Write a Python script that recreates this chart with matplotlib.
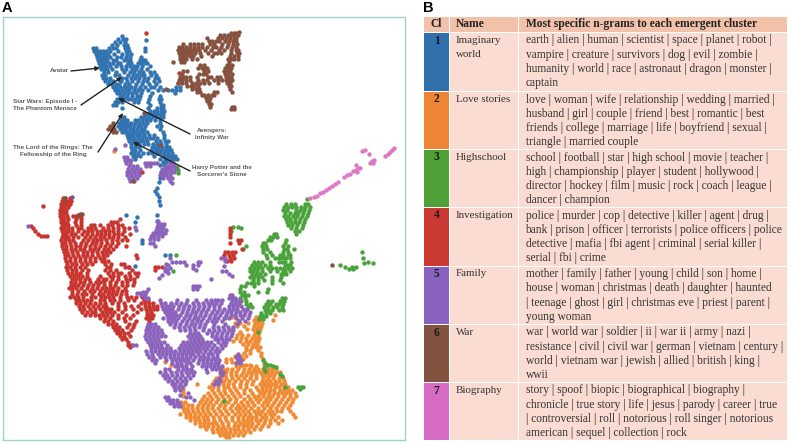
import matplotlib
matplotlib.use("Agg")
import matplotlib.pyplot as plt
from matplotlib.patches import Rectangle

# cluster points, as (y, [x, x, ...]) scan rows
blue_rows = [
    (36,[122]),(39,[118,123,126]),(40,[146]),(42,[115,120,125]),(45,[112,117,124,127]),(48,[93,96,109,113,116,125,128,145]),
    (51,[94,97,100,103,106,110,118,126,129,145]),(54,[96,99,102,105,108,114,122,127,131]),
    (57,[97,100,103,106,110,117,121,126,130,141]),(60,[98,101,104,107,113,116,124,127,130,140,143,145]),
    (63,[99,102,105,109,113,118,120,128,131,138,141,144,147]),(66,[100,103,106,110,116,121,126,130,134,137,142,150]),
    (69,[101,104,107,112,122,126,132,136,141,147]),(72,[104,108,116,124,130,134,139,143,150,154]),
    (75,[102,105,115,119,128,133,137,141,144,151,156]),(78,[103,106,110,122,126,131,135,139,144,148,155,158]),
    (81,[105,109,113,121,127,132,138,143,147,154,159]),(84,[108,112,116,119,125,129,136,142,149,156]),
    (87,[113,116,120,124,127,131,135,140,145,151,154,160,176,180]),(90,[115,118,122,126,129,134,138,142,148,158,163,168,172,176,180]),
    (93,[117,120,124,128,132,136,141,152,175]),(96,[120,123,127,132,137,140,150,160]),
    (99,[117,121,124,128,131,135,139,149,159,161]),(102,[115,118,122,134,138,148,160]),(105,[113,116,150,161,163]),
    (108,[122,148,157,161,163]),(111,[150,154,157,161,164]),(114,[145,148,151,154,157,160,163]),
    (117,[124,141,144,148,152,156,160,163]),(120,[121,124,127,135,138,142,146,150,155,160]),
    (123,[119,122,125,128,131,135,139,143,147,160]),(126,[118,121,124,127,130,134,138,141,145,157,161]),
    (129,[120,123,126,130,133,137,141,144,160]),(132,[122,125,128,132,135,139,143,147,163]),
    (135,[127,130,133,137,140,144,149,154,164]),(138,[128,131,134,138,142,146,150,153,157,164]),
    (141,[129,133,136,140,143,147,156,160,165,168]),(144,[131,135,139,144,148,153,157,161,166]),
    (147,[131,135,139,152,155,158,162,166,169]),(150,[132,135,140,151,155,158,161,165,168,171]),
    (153,[131,134,138,143,148,152,157,160,164,168,172]),(156,[133,136,140,154,163,166,169,172,175]),
    (159,[135,160,165,168,171,174,177]),(162,[163,166,170]),(165,[160,164]),(172,[161]),(178,[160]),(182,[159]),
    (188,[157]),(191,[155]),(194,[157]),(197,[159,72]),(201,[159]),(205,[160]),(215,[157,126]),(217,[137]),(221,[157]),
    (222,[135]),(240,[142]),(243,[142]),(255,[165,170]),(266,[135]),(267,[128]),
]
orange_rows = [
    (151,[114]),(317,[232,256,259]),(320,[238,254,257,260,273]),(323,[235,240,248,255,258,262]),(326,[237,244,254,258,261]),
    (315,[275]),(329,[232,247,253,257,260]),(332,[240,255,259]),(335,[237,242,248,254,258]),(338,[236,241,246,252,256,259]),
    (341,[233,240,246,250,255,258]),(344,[243,248,253,257]),(347,[246,252,256,260]),(350,[246,250,258]),(353,[244,250,261]),
    (356,[235,241,246,261]),(359,[226,231,237,243,263]),(362,[165,226,232,238,264]),(365,[171,243,246,250,264,267]),
    (366,[236,240,251,256]),(369,[223,227,232,238,244,249,254,258,263,268,272,276]),
    (372,[193,222,226,231,236,243,248,252,256,260,264,268,272,276,280]),(375,[220,225,231,236,241,246,251,256,262,266,270,274,280]),
    (378,[216,221,226,232,238,244,250,256,263,268,273,279,283]),(381,[214,219,224,229,235,241,247,253,262,266,270,275,279,284]),
    (384,[173,197,212,218,223,228,233,240,246,252,260,264,268,272,276,281,285]),
    (387,[183,209,213,218,224,228,234,240,246,256,262,266,270,275,279,284,288]),
    (390,[183,212,218,224,230,236,244,250,258,262,266,270,274,280,284,288,292]),
    (393,[183,208,214,220,225,232,238,244,252,260,264,269,274,278,282,286,290,295]),
    (396,[183,204,210,216,222,228,234,240,248,254,258,263,268,272,278,284,290,296]),
    (399,[202,207,212,218,224,230,236,244,250,256,260,266,270,276,282,288,293]),
    (402,[181,185,200,205,210,216,222,228,235,241,247,252,258,264,268,274,280,286,292]),
    (405,[183,188,192,198,203,208,213,220,225,232,238,243,248,254,262,267,272,278,284,290]),
    (408,[183,187,192,197,202,207,212,218,224,230,236,240,245,251,258,264,270,276,282,288]),
    (411,[184,188,193,198,203,208,214,220,226,232,238,243,248,254,258,262,268,272,277,281,290]),
    (414,[180,186,190,195,200,205,210,216,222,228,235,240,245,250,256,260,265,270,274,293]),
    (417,[186,190,194,198,203,207,213,219,225,232,238,243,248,252,256,262,266,272,278,295]),
    (420,[190,195,199,204,208,214,220,226,232,238,243,247,251,256,260,265,270,275,282]),
    (423,[195,200,204,208,212,216,222,228,235,240,244,248,252,258,264,270,278]),
    (426,[200,204,208,213,218,223,228,234,238,243,247,251,256,262,268]),
    (429,[206,212,217,221,225,230,234,238,243,248,254,260]),(432,[213,218,222,226,230,235,240,245,250]),
    (435,[220,224,228,233,238,243]),(437,[226,229]),
]
green_rows = [
    (167,[177]),(170,[178]),(173,[178]),(199,[307]),(204,[286,291,295,305,308]),(207,[284,288,292,296,301,305,310]),
    (210,[283,287,296,300,304,309]),(213,[285,290,295,298,303,308]),(216,[284,288,293,297,302,307]),
    (219,[286,290,295,300,305]),(222,[287,291,295,299,304]),(225,[288,292,297,303]),(227,[233,238]),(228,[291,296,302,241]),
    (231,[295,299,231]),(234,[276,274,296]),(237,[270,273,277]),(240,[268,271,286]),(243,[265,263,285]),
    (246,[246,262,266,283,288]),(249,[243,263,267,284,287,294]),(252,[263,270,283,288]),(255,[176,266,272,280,283,288,290]),
    (258,[267,275,278,281,284,286,290,363]),(252,[362]),(262,[254,258,262,270,279,282,285,291,368]),
    (263,[364,373]),(265,[252,256,260,265,270,285,288,290,340]),(267,[345,352,356]),(269,[353,349]),
    (268,[250,254,258,262,268,272,276,280,284,288,292]),(271,[173,250,253,257,262,270,277,283,285,290]),
    (274,[252,256,260,265,281,283,286]),(277,[250,254,258,262,272,281]),(280,[253,258,264,272,280]),
    (283,[247,251,254,258,272,283]),(286,[241,245,254]),(289,[240,268]),(292,[240,244,258,267]),(295,[242,245,248]),
    (298,[240,245,282,285]),(301,[241,246,268,272,280,284]),(304,[246,250,266,270,276,279,283]),
    (307,[248,252,264,268,273,277,282]),(310,[265,268,272,279,283]),(313,[261,266,270]),(316,[260,263,266]),
    (318,[225]),(319,[259,263]),(332,[258]),(360,[263]),(363,[265]),(365,[267,270]),(366,[273]),(367,[276]),(368,[264]),
    (371,[265]),(374,[280]),(376,[282]),(387,[285,298,301,303]),(389,[300]),(401,[224]),
]
red_rows = [
    (33,[146]),(73,[179]),(83,[178]),(172,[140,142]),(198,[63,65,70]),(201,[62,65,68,71]),(204,[61,64,67,70]),(206,[43]),
    (207,[61,64,68]),(210,[60,63,66]),(213,[60,63,66]),(216,[60,63,67,73,76,79,81]),(219,[61,64,68,76,81,120]),
    (222,[61,64,67,75,81,111,114,117]),(225,[62,65,68,76,81,91,94,100,108,112,118,122]),
    (226,[31]),(228,[33,61,64,68,72,78,81,88,91,95,103,108,113,118,124,129,230]),(231,[35,62,65,68,72,78,84,88,92,97,101,105,109,113,118,124,230]),
    (234,[38,63,66,71,75,82,87,92,97,101,105,109,114,118,122,130,230]),(236,[41,44,47]),
    (237,[62,65,68,73,78,85,90,95,100,104,109,113,118,125,230]),(240,[61,65,69,73,83,88,93,97,101,106,112,117,122,127,238,241]),
    (243,[62,65,70,75,81,86,92,96,101,107,112,118,230,239]),(246,[62,66,71,76,80,85,90,95,100,105,110,116,126]),
    (249,[63,66,71,75,80,84,90,94,98,104,108,113,242]),(252,[64,67,72,77,83,87,92,97,102,106,110,225,228,232,235]),
    (255,[65,68,73,78,83,87,92,98,103,107,136,224,229,233]),(258,[65,70,75,80,85,90,95,100,104,137,224,230,234]),
    (261,[66,70,75,80,85,90,95,102,104,108,227,231]),(264,[67,72,76,82,87,92,105,111,121,124]),
    (267,[66,70,75,80,85,107,110,125,129,155,158,162]),(270,[67,72,76,82,88,105,110,116,132,155]),
    (273,[68,72,76,80,87,108,113,118,121,129,135,138]),(276,[70,74,78,82,87,100,110,113,118,125,130,137]),
    (279,[72,76,80,85,89,98,103,106,112,118,126,130,134]),(282,[71,75,80,84,90,96,100,104,110,116,122,127,134]),
    (285,[71,74,78,83,88,93,98,104,110,115,122,127,133]),(288,[69,72,76,81,87,92,97,102,106,110,113,118,125]),
    (291,[72,78,84,90,94,100,105,109,113,117,122,126]),(294,[72,77,82,86,92,99,103,108,112,116,121,126]),
    (297,[70,74,78,83,91,95,101,105,109,113,120,127,131,136,142]),(300,[76,79,83,87,91,100,104,110,114,120,128,134,144,148]),
    (303,[76,80,85,90,95,100,105,112,118,124,141,145,149,153]),(306,[79,83,88,93,98,103,106,118,125,131,138,145,149,153,157]),
    (309,[80,84,90,95,100,105,108,111,118,125,133,141,146,150,154,157]),(312,[82,87,92,95,102,106,110,114,122,137,147,151]),
    (315,[85,90,95,99,103,107,112,118,126,133,147,150,153]),(318,[100,105,110,118,124,130,146,149,152]),
    (321,[104,108,113,125,136,149]),(324,[108,112,116,129,134]),(327,[113,116,119,127,133]),(330,[115,118,122,131]),
    (333,[117,120,124,128]),(336,[120,124,130]),(339,[122,126]),(342,[128]),(345,[128,131]),(347,[130]),
]
purple_rows = [
    (145,[125]),(149,[115]),(157,[124,127]),(160,[125,128,131]),(163,[126,130,145,148,151,154,157,170,173]),
    (166,[129,133,137,146,150,165,168,171,174]),(169,[128,132,136,140,162,165,168,171,175]),
    (172,[127,130,134,138,161,164,167,171,174]),(175,[127,131,135,139,160,163,166,170]),(178,[129,133,137,163,168,172]),
    (181,[130,134,170]),(183,[172]),(221,[158]),(224,[158,161,164]),(226,[28]),(227,[157,160,163,135]),
    (230,[156,159,162,166,136]),(233,[153,156,159,162,165]),(236,[151,154,158,162]),(239,[150,154,158]),(243,[150,153]),
    (246,[155]),(258,[170,221,225]),(261,[225]),(262,[172,176,180,184,198,200]),(264,[166]),(265,[168,186,193,198]),
    (266,[224]),(268,[165,170,193]),(270,[167,196]),(271,[165,222,226]),(273,[168]),(274,[229]),(275,[162]),(276,[232]),
    (278,[159]),(279,[211]),(286,[193,196,199]),(289,[148,193,197]),(292,[143,146]),(293,[137,140]),(295,[141,145,230,232]),
    (298,[145,148,229,232,235]),(300,[160,177,187,196,206,211,215,218,222,232,236,240]),
    (303,[161,165,171,176,181,186,193,198,203,208,212,216,221,231,235,239]),
    (306,[162,166,169,173,179,184,189,194,199,204,209,214,219,229,233,237,241]),
    (309,[163,166,169,172,178,183,188,193,198,203,208,214,219,224,229,233,237,243,247]),
    (312,[165,168,171,175,182,187,192,196,201,206,212,217,222,227,231,236,240,245,250]),
    (315,[167,170,173,176,180,186,190,195,200,205,210,215,220,226,231,235,240,244,249]),
    (318,[163,168,171,174,178,184,189,194,198,203,209,214,218,224,229,236,242,248]),
    (321,[168,172,176,182,187,192,197,201,207,212,216,222,239,245]),
    (324,[148,151,155,170,175,180,186,191,195,200,205,214,225,237]),
    (327,[147,150,154,158,174,179,184,189,194,199,204,213,218,223,228,233]),
    (330,[146,149,153,157,161,180,185,190,195,203,209,214,219,224,229,233]),
    (333,[146,150,154,158,162,190,194,198,207,212,217,222,227,232]),
    (336,[145,149,153,157,161,165,188,192,196,200,212,216,221,226,231]),
    (339,[146,150,154,158,190,194,198,202,215,218,222,226,229]),
    (342,[148,152,156,160,164,183,187,191,195,199,203,207,211,218,223,226]),
    (345,[133,136,150,153,157,161,167,181,185,189,193,197,201,205,209,214,221,225]),
    (348,[151,155,159,162,166,170,179,183,187,191,195,199,203,207,212,217,222]),
    (351,[146,151,155,159,163,167,171,175,180,184,188,192,196,200,205,210,215,219]),
    (354,[147,152,158,162,166,170,174,178,182,186,190,193,198,203,208,212,217,238]),
    (357,[149,153,160,165,170,174,178,182,186,190,195,200,204,208,213,217,236,239]),
    (360,[152,156,166,172,176,180,184,188,193,199,203,207,211,215,219,238,241]),
    (363,[155,172,177,181,186,190,198,203,207,211,215,218,236,240]),(366,[175,178,182,186,192,202,206,210,214,218,222]),
    (369,[165,169,178,183,187,191,206,212,216,220]),(372,[160,165,171,176,181,186,190,194,207,220,223]),
    (375,[163,167,172,177,182,188,193,222]),(378,[165,169,175,180,185,190,219]),(381,[168,172,177,182,186,216,220]),
    (384,[172,175,180,185,214,218]),(387,[174,178,182]),(390,[175,180]),(393,[188]),(395,[180]),(397,[165,168,186,190]),
    (400,[167,170,173,177,194]),(403,[170,173,177,179]),(406,[174,178,180]),
]
brown_rows = [
    (32,[239]),(33,[231,234,236]),(35,[220,224,228,231,234,238]),(38,[207,218,222,226,230,234,236]),
    (41,[209,212,216,219,225,229,233,236]),(44,[183,190,194,198,202,210,214,222,228,233,237]),
    (47,[179,182,186,190,194,198,202,207,213,216,221,227,232,236]),(50,[178,181,184,187,190,193,196,199,205,211,219,224,231,236,238]),
    (53,[179,182,185,188,191,195,200,208,214,217,221,231,237,239]),(56,[180,183,186,190,193,201,212,230,234,238]),
    (59,[180,183,186,192,197,228,231,234,238]),(62,[173,181,184,229]),(65,[200,204,227,229,232]),
    (68,[198,202,205,207,225,228,231]),(71,[183,187,204,208,224,227,230]),(74,[182,199,203,206,225,228,232]),
    (77,[180,183,186,190,197,208,211,217,220,226,229,231]),(80,[179,182,186,190,198,203,207,214,218,222,226,229,232]),
    (83,[178,182,186,192,196,200,204,209,218,227,230]),(86,[187,191,194,198,229,231]),(89,[192,196,199,166,230]),
    (92,[197,200,214,217,232]),(95,[202,204,208,212,214]),(98,[206,210]),(101,[207,209]),(104,[209,211]),(107,[210,232,234]),
    (109,[231,234]),(113,[144]),(123,[113]),(126,[110,113]),(129,[108,111,114]),(132,[113,116]),(145,[160]),(181,[133]),
    (198,[65]),(200,[64]),(214,[80,82]),(215,[78]),(265,[332]),
]
pink_rows = [
    (148,[394]),(150,[365,392]),(151,[362]),(152,[390]),(154,[369,388]),(156,[385]),(160,[374]),(161,[372]),(163,[370,373]),
    (165,[356]),(168,[358,360]),(170,[356]),(171,[353]),(172,[357]),(174,[350]),(175,[347]),(177,[344]),(182,[338]),
    (184,[335]),(186,[332]),(188,[329]),(190,[326]),(192,[323]),(193,[320]),(196,[317]),(197,[314]),(198,[310]),
]

cluster_ids = ["1", "2", "3", "4", "5", "6", "7"]
cluster_names = [["Imaginary", "world"], ["Love stories"], ["Highschool"], ["Investigation"], ["Family"], ["War"], ["Biography"]]
cluster_ngrams = [
    ["earth | alien | human | scientist | space | planet | robot |", "vampire | creature | survivors | dog | evil | zombie |",
     "humanity | world | race | astronaut | dragon | monster |", "captain"],
    ["love | woman | wife | relationship | wedding | married |", "husband | girl | couple | friend | best | romantic | best",
     "friends | college | marriage | life | boyfriend | sexual |", "triangle | married couple"],
    ["school | football | star | high school | movie | teacher |", "high | championship | player | student | hollywood |",
     "director | hockey | film | music | rock | coach | league |", "dancer | champion"],
    ["police | murder | cop | detective | killer | agent | drug |", "bank | prison | officer | terrorists | police officers | police",
     "detective | mafia | fbi agent | criminal | serial killer |", "serial | fbi | crime"],
    ["mother | family | father | young | child | son | home |", "house | woman | christmas | death | daughter | haunted",
     "| teenage | ghost | girl | christmas eve | priest | parent |", "young woman"],
    ["war | world war | soldier | ii | war ii | army | nazi |", "resistance | civil | civil war | german | vietnam | century |",
     "world | vietnam war | jewish | allied | british | king |", "wwii"],
    ["story | spoof | biopic | biographical | biography |", "chronicle | true story | life | jesus | parody | career | true",
     "| controversial | roll | notorious | roll singer | notorious", "american | sequel | collection | rock"],
]
cluster_colors = ["#2f70ad", "#ee8535", "#4fa036", "#cb3a32", "#8a63c0", "#84533f", "#d86cc2"]

W, H = 792, 445


def expand(rows):
    xs = []
    ys = []
    for y, row in rows:
        for x in row:
            xs.append(x)
            ys.append(y)
    return xs, ys


fig = plt.figure(figsize=(W / 100, H / 100), dpi=100)
bg = fig.add_axes([0, 0, 1, 1])
bg.set_xlim(0, W)
bg.set_ylim(H, 0)
bg.axis("off")

# panel A
ax = fig.add_axes([3 / W, 1 - 440 / H, 402 / W, 423 / H])
ax.set_xlim(3, 405)
ax.set_ylim(440, 17)
ax.set_xticks([])
ax.set_yticks([])
for s in ax.spines.values():
    s.set_color("#9bd3cd")
    s.set_linewidth(1.0)

all_rows = [blue_rows, orange_rows, green_rows, red_rows, purple_rows, brown_rows, pink_rows]
for rows, c in zip(all_rows, ["#3274b2", "#f08a33", "#4aa23a", "#c8352f", "#8b63bd", "#86523f", "#dd78c6"]):
    xs, ys = expand(rows)
    ax.scatter(xs, ys, s=10, color=c, linewidths=0, zorder=2)

labels = [
    ("Avatar", 59, 70, 71, 71, 100, 68),
    ("Star Wars: Episode I -\nThe Phantom Menace", 45, 105, 81, 105, 122, 77),
    ("Avengers:\nInfinity War", 212, 134, 190, 134, 118, 98),
    ("The Lord of the Rings: The\nFellowship of the Ring", 53, 151, 98, 152, 123, 113),
    ("Harry Potter and the\nSorcerer's Stone", 222, 171, 190, 171, 133, 142),
]
for txt, tx, ty, x0, y0, x1, y1 in labels:
    ax.text(tx, ty, txt, ha="center", va="center", fontsize=4.5, fontweight="bold", color="#5c5c5c",
            family="Liberation Sans", linespacing=1.45, zorder=4)
    ax.annotate("", xy=(x1, y1), xytext=(x0, y0), zorder=4,
                arrowprops=dict(arrowstyle="-|>,head_length=0.25,head_width=0.12", color="#222222", lw=1.0,
                                shrinkA=0, shrinkB=0))

bg.text(2, 8.5, "A", fontsize=10.5, fontweight="bold", family="Liberation Sans", va="center", color="black")
bg.text(423.5, 8.5, "B", fontsize=10.5, fontweight="bold", family="Liberation Sans", va="center", color="black")

# panel B table
header_c = "#f2c1aa"
cell_c = "#fadcd3"
col_x = [(424, 449), (450, 518), (519, 787)]
for x0, x1 in col_x:
    bg.add_patch(Rectangle((x0, 17), x1 - x0, 15, color=header_c, lw=0))
serif = "Liberation Serif"
bg.text(436.5, 24, "Cl", ha="center", va="center", fontsize=8.3, fontweight="bold", family=serif, color="#222222")
bg.text(456, 24, "Name", va="center", fontsize=8.3, fontweight="bold", family=serif, color="#222222")
bg.text(525.5, 24, "Most specific n-grams to each emergent cluster", va="center", fontsize=8.3, fontweight="bold",
        family=serif, color="#222222")

row_tops = [33, 92, 150, 208, 266.5, 325, 383]
row_bottoms = [90.5, 148.5, 206.5, 265.5, 323.5, 381.5, 440]
for i in range(7):
    top = row_tops[i]
    h = row_bottoms[i] - top
    bg.add_patch(Rectangle((424, top), 25, h, color=cluster_colors[i], lw=0))
    bg.add_patch(Rectangle((450, top), 68, h, color=cell_c, lw=0))
    bg.add_patch(Rectangle((519, top), 268, h, color=cell_c, lw=0))
    bg.text(436.5, top + 7.5, cluster_ids[i], ha="center", va="center", fontsize=8.3, fontweight="bold", family=serif,
            color="#1a1a1a")
    for j, line in enumerate(cluster_names[i]):
        bg.text(456, top + 7.5 + j * 14.3, line, va="center", fontsize=7.9, family=serif, color="#333333")
    for j, line in enumerate(cluster_ngrams[i]):
        bg.text(525.5, top + 7.5 + j * 14.3, line, va="center", fontsize=8.3, family=serif, color="#333333")

fig.savefig("out.png", dpi=100)
